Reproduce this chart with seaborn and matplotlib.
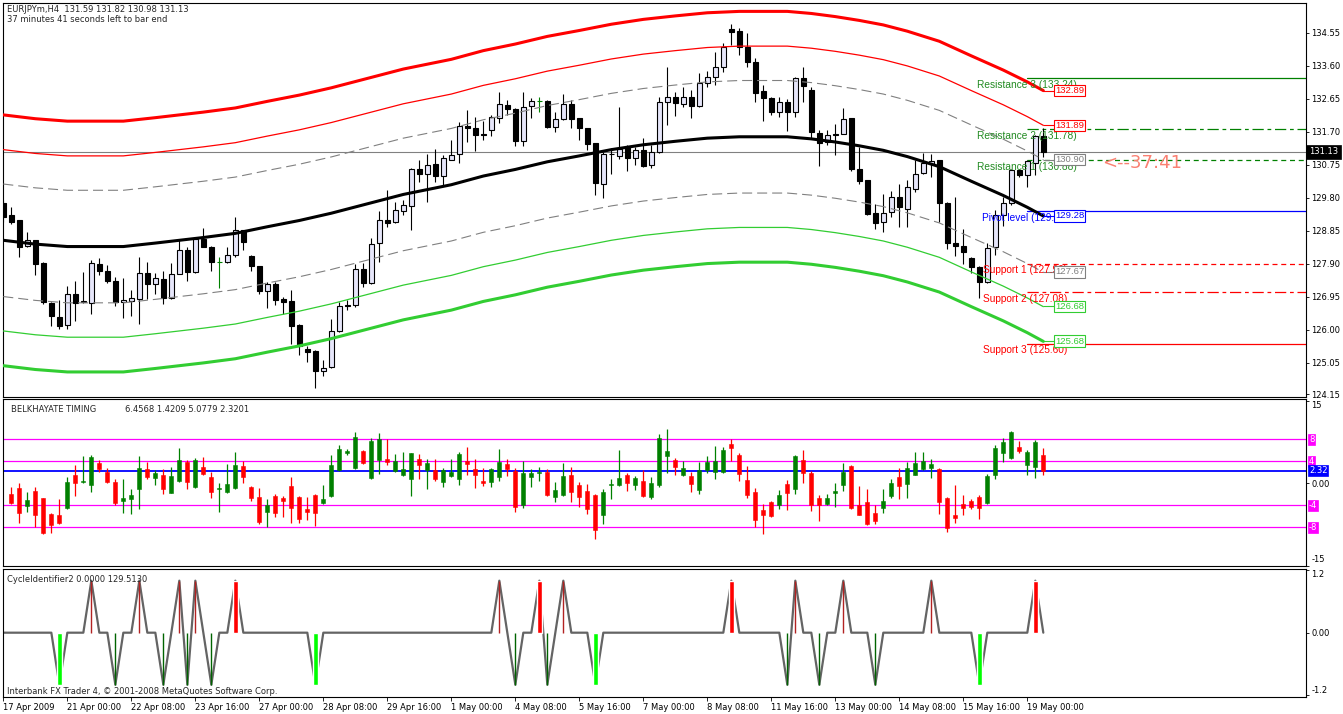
import numpy as np
import pandas as pd
import matplotlib
matplotlib.use("Agg")
import matplotlib.pyplot as plt
import matplotlib.transforms as mtransforms
import seaborn as sns

# ------------------------------------------------------------------ data
symbol_title = "EURJPYm,H4  131.59 131.82 130.98 131.13"
timer_text = "37 minutes 41 seconds left to bar end"

opens = [129.64, 129.30, 129.15, 128.43, 128.58, 127.93, 126.77, 126.38, 126.15, 127.04,
         126.80, 126.77, 127.90, 127.71, 127.42, 126.80, 126.83, 126.89, 127.64, 127.33,
         127.47, 126.91, 127.62, 128.31, 127.66, 128.63, 128.40, 127.95, 127.95, 128.16,
         128.87, 128.14, 127.83, 127.12, 127.33, 126.88, 126.82, 126.14, 125.45, 125.39,
         124.81, 124.92, 125.96, 126.73, 126.72, 127.74, 127.35, 128.50, 129.15, 129.11,
         129.42, 129.57, 130.63, 130.48, 130.77, 130.43, 130.90, 131.05, 131.87, 131.82,
         131.63, 131.75, 132.09, 132.47, 132.36, 131.44, 132.45, 132.59, 132.59, 131.85,
         132.06, 132.49, 132.09, 131.80, 131.37, 130.21, 131.05, 131.01, 131.27, 130.96,
         131.17, 130.76, 131.13, 132.57, 132.71, 132.49, 132.71, 132.45, 133.12, 133.29,
         133.56, 134.65, 134.60, 134.15, 133.70, 132.88, 132.69, 132.28, 132.55, 132.28,
         133.24, 132.92, 131.68, 131.41, 131.63, 131.65, 132.09, 130.63, 130.31, 129.38,
         129.11, 129.39, 129.83, 129.49, 130.07, 130.52, 130.77, 130.89, 129.65, 128.51,
         128.43, 128.07, 127.81, 127.38, 128.38, 129.30, 129.65, 130.60, 130.47, 130.81,
         131.59]
highs = [129.73, 129.54, 129.17, 128.82, 128.60, 127.95, 126.80, 126.85, 127.25, 127.42,
         127.66, 128.02, 128.07, 127.86, 127.52, 127.49, 127.14, 128.10, 127.95, 127.63,
         127.71, 127.93, 128.58, 128.38, 128.65, 128.94, 128.42, 128.10, 128.38, 129.25,
         128.89, 128.16, 127.85, 127.38, 127.38, 126.94, 127.14, 126.16, 125.55, 125.41,
         125.12, 126.32, 126.80, 126.87, 127.90, 127.93, 128.64, 129.41, 130.02, 129.68,
         129.73, 130.66, 130.88, 131.06, 131.22, 131.03, 131.46, 131.99, 132.33, 132.13,
         132.02, 132.18, 132.84, 132.63, 132.40, 132.84, 132.68, 132.71, 132.61, 132.28,
         132.78, 132.62, 132.11, 131.82, 131.39, 131.13, 131.24, 132.42, 131.32, 131.27,
         131.53, 131.32, 132.71, 133.58, 132.84, 132.98, 132.90, 133.41, 133.45, 133.99,
         134.27, 134.81, 134.68, 134.54, 133.82, 133.05, 132.71, 132.71, 132.66, 133.28,
         133.56, 132.98, 131.75, 131.75, 131.92, 132.38, 132.11, 131.27, 130.33, 129.63,
         129.92, 129.99, 130.21, 130.31, 130.90, 131.10, 131.06, 130.90, 129.67, 129.83,
         128.91, 128.09, 127.83, 128.50, 129.44, 129.83, 130.64, 130.64, 130.90, 131.60,
         131.82]
lows = [129.11, 129.06, 128.10, 128.38, 127.57, 126.75, 126.10, 126.03, 126.03, 126.25,
        126.78, 126.46, 127.57, 127.35, 126.70, 126.35, 126.41, 126.17, 126.89, 127.04,
        126.75, 126.90, 127.60, 127.42, 127.64, 128.38, 127.71, 127.21, 127.93, 128.10,
        128.29, 127.71, 127.02, 126.63, 126.73, 126.46, 125.60, 125.29, 125.07, 124.33,
        124.68, 124.90, 125.93, 126.58, 126.65, 127.23, 127.33, 127.95, 128.96, 129.08,
        129.30, 128.87, 130.26, 129.68, 130.26, 130.18, 130.88, 130.81, 131.41, 131.15,
        131.48, 131.58, 131.96, 132.18, 131.30, 131.30, 132.11, 132.28, 131.80, 131.70,
        132.04, 131.80, 131.48, 131.19, 129.89, 129.80, 130.48, 130.93, 130.58, 130.74,
        130.70, 130.66, 131.08, 131.89, 132.15, 132.42, 132.11, 132.43, 133.00, 133.05,
        133.43, 134.20, 133.91, 133.58, 132.57, 132.02, 132.18, 132.13, 131.73, 132.12,
        132.57, 131.51, 130.72, 131.32, 131.03, 131.63, 130.58, 130.21, 129.30, 128.91,
        128.82, 129.25, 128.96, 128.96, 129.97, 130.50, 130.40, 129.11, 128.34, 128.14,
        127.90, 127.63, 126.92, 127.35, 128.17, 128.98, 129.59, 130.40, 130.12, 130.45,
        130.98]
closes = [129.25, 129.11, 128.40, 128.58, 127.90, 126.80, 126.41, 126.10, 127.04, 126.77,
          126.82, 127.93, 127.69, 127.40, 126.80, 126.85, 126.92, 127.64, 127.33, 127.50,
          126.91, 127.62, 128.31, 127.66, 128.63, 128.40, 127.95, 127.95, 128.16, 128.87,
          128.53, 127.84, 127.12, 127.33, 126.87, 126.80, 126.10, 125.55, 125.36, 124.81,
          124.90, 125.98, 126.70, 126.70, 127.74, 127.36, 128.48, 129.15, 129.08, 129.44,
          129.59, 130.64, 130.48, 130.76, 130.43, 130.94, 131.03, 131.87, 131.80, 131.61,
          131.61, 132.12, 132.49, 132.36, 131.44, 132.42, 132.59, 132.59, 131.85, 132.06,
          132.49, 132.06, 131.80, 131.35, 130.23, 131.05, 131.06, 131.20, 130.96, 131.17,
          130.72, 131.13, 132.57, 132.71, 132.52, 132.71, 132.45, 133.12, 133.29, 133.56,
          134.15, 134.59, 134.15, 133.72, 132.83, 132.68, 132.28, 132.55, 132.28, 133.26,
          133.02, 131.70, 131.38, 131.61, 131.62, 132.07, 130.63, 130.29, 129.35, 129.08,
          129.38, 129.83, 129.54, 130.10, 130.50, 130.81, 130.87, 129.64, 128.50, 128.43,
          128.24, 127.81, 127.38, 128.37, 129.32, 129.66, 130.60, 130.45, 130.86, 131.58,
          131.13]

center_bars = [0, 4, 8, 15, 19, 25, 29, 33, 37, 41, 45, 50, 56, 60, 64, 68, 72, 76, 80,
               84, 88, 92, 98, 101, 104, 107, 110, 113, 117, 121, 125, 128, 130]
center_vals = [128.58, 128.47, 128.40, 128.40, 128.50, 128.66, 128.78, 128.97, 129.15,
               129.36, 129.60, 129.90, 130.18, 130.43, 130.62, 130.84, 131.01, 131.19,
               131.33, 131.43, 131.52, 131.56, 131.56, 131.50, 131.41, 131.30, 131.17,
               130.99, 130.70, 130.28, 129.87, 129.53, 129.28]
band_offsets = [3.61, 2.61, 1.62, -1.62, -2.61, -3.61]
band_tags = ["132.89", "131.89", "130.90", "129.28", "127.67", "126.68", "125.68"]
band_tag_vals = [132.89, 131.89, 130.90, 129.28, 127.67, 126.68, 125.68]

pivot_names = ["Resistance 3 (133.24)", "Resistance 2 (131.78)", "Resistance 1 (130.88)",
               "Pivot level (129.42)", "Support 1 (127.90)", "Support 2 (127.08)",
               "Support 3 (125.60)"]
pivot_vals = [133.24, 131.78, 130.88, 129.42, 127.90, 127.08, 125.60]
current_price = 131.13
timer_label = "<--37:41"

price_ticks = [134.55, 133.60, 132.65, 131.70, 130.75, 129.80, 128.85, 127.90, 126.95,
               126.00, 125.05, 124.15]

nan = np.nan
osc_open = [nan, -2.00, -0.91, -4.12, -1.39, -2.73, -5.52, -5.76, -4.42, 1.52,
            0.24, -0.36, 3.64, 2.06, 0.24, -3.21, -2.79, -0.97, 2.67, 1.03,
            1.52, -1.70, 0.42, 3.94, -0.67, 2.97, 1.21, -0.97, -1.58, -0.79,
            3.15, -0.67, -2.48, -5.21, -2.30, -2.61, -0.48, -2.42, -4.61, -2.12,
            -3.64, -2.30, 2.36, 5.45, 2.85, 5.88, 1.03, 4.24, 4.36, 2.24,
            1.52, 0.73, 4.36, 2.36, 2.42, 0.24, 1.33, 0.85, 4.06, 2.67,
            0.42, 0.30, 1.15, 3.58, 2.24, -4.00, 1.21, 1.94, 2.12, -2.42,
            -2.12, 1.52, -0.30, -1.39, -2.12, -5.76, -0.36, -0.30, 1.52, -0.30,
            0.42, -2.42, -0.36, 4.97, 4.24, 1.52, 1.33, -1.21, 2.42, 2.12,
            2.12, 7.21, 5.15, 0.61, -1.58, -4.85, -3.39, -3.94, -0.06, -0.97,
            4.24, 1.94, -2.61, -3.70, -1.70, -0.30, 3.15, -3.94, -3.39, -5.33,
            -4.42, -2.30, 1.15, -0.06, 1.52, 2.67, 2.85, 2.67, -2.61, -5.76,
            -3.82, -3.21, -2.42, -3.64, 1.52, 5.45, 4.67, 6.61, 3.33, 3.03,
            5.0779]
osc_high = [nan, -0.67, 0.00, -1.58, -0.61, -2.70, -5.33, -2.91, 1.21, 3.33,
            4.97, 5.15, 4.18, 2.85, 0.73, 0.85, -0.97, 4.97, 3.94, 2.42,
            2.55, 2.97, 6.36, 4.18, 4.67, 4.79, 2.12, 0.00, 3.45, 5.70,
            4.06, -0.48, -0.91, -2.91, -2.00, -2.30, 1.21, -2.30, -2.48, -2.00,
            -0.30, 5.15, 6.97, 6.30, 9.33, 6.06, 8.30, 9.21, 8.00, 5.39,
            5.70, 5.58, 5.39, 4.48, 4.48, 2.85, 4.48, 5.76, 6.67, 4.48,
            2.85, 2.85, 6.30, 4.48, 2.85, 4.06, 2.67, 2.97, 2.67, 0.24,
            3.76, 2.97, 0.24, -0.06, -1.88, -1.09, 0.85, 6.06, 1.94, 1.33,
            2.42, 1.21, 9.03, 9.94, 4.67, 4.06, 2.06, 3.94, 4.97, 6.79,
            6.61, 8.00, 5.58, 3.15, -0.79, -3.70, -3.21, -1.21, 0.61, 5.15,
            6.06, 2.24, -2.12, -1.88, 0.00, 3.76, 3.33, -0.48, -0.97, -4.00,
            -1.09, 0.85, 2.85, 3.94, 5.70, 5.70, 4.48, 2.85, -2.42, -0.30,
            -2.12, -2.91, -2.18, 1.76, 6.97, 8.30, 9.52, 7.70, 6.06, 7.88,
            6.4568]
osc_low = [nan, -3.82, -7.15, -5.15, -7.94, -9.27, -8.97, -7.45, -4.61, -2.30,
           0.12, -1.58, 2.06, 0.12, -4.00, -5.33, -5.64, -4.61, 0.85, -0.30,
           -2.00, -1.82, 0.24, -0.97, -0.79, 1.52, -2.61, -5.21, -1.70, -0.97,
           0.00, -3.21, -7.45, -7.94, -6.06, -6.06, -7.15, -7.15, -6.73, -7.76,
           -3.82, -2.42, 2.30, 5.15, 2.67, 3.45, 0.85, 1.64, 3.33, 2.06,
           1.33, -2.30, 0.85, -1.09, 0.42, -0.61, 1.15, -0.30, 1.52, -0.79,
           -0.48, -0.61, 0.42, 1.33, -5.21, -4.42, -0.61, 0.42, -2.30, -3.39,
           -2.30, -3.39, -4.24, -5.52, -10.06, -7.33, -2.79, -0.48, -1.39, -1.21,
           -2.48, -2.79, -0.61, 1.94, 1.52, 1.33, -1.58, -2.00, 1.94, 0.85,
           1.94, 4.06, 0.42, -2.73, -7.94, -9.15, -6.06, -4.61, -4.85, -1.88,
           0.12, -5.03, -6.85, -3.94, -4.24, -1.39, -4.61, -5.82, -7.58, -7.33,
           -5.45, -2.61, -2.79, -2.61, 1.45, 2.42, 1.03, -5.52, -8.79, -7.15,
           -5.82, -4.61, -6.42, -3.70, 0.73, 3.94, 4.48, 5.58, 1.52, 1.03,
           1.4209]
osc_close = [nan, -3.64, -5.33, -3.03, -5.82, -9.09, -7.64, -7.15, 0.24, 0.12,
             0.36, 4.79, 2.67, 0.30, -3.64, -2.73, -2.12, 2.73, 1.21, 1.82,
             -1.09, 1.33, 4.24, 0.30, 4.24, 1.76, -1.52, -0.85, -0.18, 3.33,
             1.21, -2.61, -6.97, -3.94, -5.33, -3.21, -4.42, -6.42, -5.21, -5.33,
             -2.79, 3.33, 6.30, 5.88, 8.48, 3.76, 7.70, 8.00, 3.94, 4.06,
             2.67, 5.45, 3.33, 3.76, 0.73, 2.42, 2.06, 5.39, 3.58, 1.52,
             0.12, 2.67, 3.94, 2.67, -4.24, 1.94, 1.94, 2.06, -2.18, -1.27,
             1.33, -1.52, -2.42, -4.61, -8.48, -1.58, -0.06, 1.03, 0.12, 1.03,
             -2.30, 0.00, 8.30, 5.88, 3.03, 2.85, -0.06, 2.42, 3.94, 4.06,
             6.06, 6.48, 1.76, -2.12, -6.67, -5.76, -5.94, -2.12, -1.70, 4.97,
             1.94, -4.00, -4.00, -2.67, -1.39, 2.06, -4.42, -5.76, -7.33, -6.85,
             -3.21, 0.00, -0.48, 2.85, 3.76, 4.06, 3.58, -3.39, -8.06, -6.24,
             -4.55, -4.24, -4.42, 1.33, 6.48, 7.52, 9.33, 5.88, 5.70, 7.52,
             2.3201]
osc_levels = [8, 4, -4, -8]
osc_level_tags = ["8", "4", "-4", "-8"]
osc_current = 2.32
osc_title = "BELKHAYATE TIMING"
osc_values_text = "6.4568 1.4209 5.0779 2.3201"
osc_ticks = [15, 0, -15]
osc_tick_labels = ["15", "0.00", "-15"]

cycle_vals = [0, 0, 0, 0, 0, 0, 0, -1, 0, 0,
              0, 1, 0, 0, -1, 0, 0, 1, 0, 0,
              -1, 0, 1, -1, 1, 0, -1, 0, 0, 1,
              0, 0, 0, 0, 0, 0, 0, 0, 0, -1,
              0, 0, 0, 0, 0, 0, 0, 0, 0, 0,
              0, 0, 0, 0, 0, 0, 0, 0, 0, 0,
              0, 0, 1, 0, -1, 0, 0, 1, -1, 0,
              1, 0, 0, 0, -1, 0, 0, 0, 0, 0,
              0, 0, 0, 0, 0, 0, 0, 0, 0, 0,
              0, 1, 0, 0, 0, 0, 0, 0, -1, 1,
              0, 0, -1, 0, 0, 1, 0, 0, 0, -1,
              0, 0, 0, 0, 0, 0, 1, 0, 0, 0,
              0, 0, -1, 0, 0, 0, 0, 0, 0, 1,
              0]
major_up = [29, 67, 91, 129]
minor_up = [11, 17, 22, 24, 62, 70, 99, 105, 116]
major_dn = [7, 39, 74, 122]
minor_dn = [14, 20, 23, 26, 64, 68, 98, 102, 109]
cycle_ticks = [1.2, 0, -1.2]
cycle_tick_labels = ["1.2", "0.00", "-1.2"]
cycle_title = "CycleIdentifier2 0.0000 129.5130"
footer = "Interbank FX Trader 4, \u00a9 2001-2008 MetaQuotes Software Corp."

time_tick_bars = [0, 8, 16, 24, 32, 40, 48, 56, 64, 72, 80, 88, 96, 104, 112, 120, 128]
time_tick_labels = ["17 Apr 2009", "21 Apr 00:00", "22 Apr 08:00", "23 Apr 16:00",
                    "27 Apr 00:00", "28 Apr 08:00", "29 Apr 16:00", "1 May 00:00",
                    "4 May 08:00", "5 May 16:00", "7 May 00:00", "8 May 08:00",
                    "11 May 16:00", "13 May 00:00", "14 May 08:00", "15 May 16:00",
                    "19 May 00:00"]

# ------------------------------------------------------------------ style
sns.set_theme(style="white")
plt.rcParams['font.family'] = ['DejaVu Sans']
plt.rcParams['axes.linewidth'] = 0.8
plt.rcParams['axes.edgecolor'] = 'black'

W, H = 1343, 714
fig = plt.figure(figsize=(W / 100, H / 100), dpi=100)
fig.patch.set_facecolor('white')


def rect(l, t, r, b):
    return [l / W, 1 - b / H, (r - l) / W, (b - t) / H]


ax1 = fig.add_axes(rect(2.7, 2.7, 1305.7, 397.3))
ax2 = fig.add_axes(rect(2.7, 399.3, 1305.7, 566.0), sharex=ax1)
ax3 = fig.add_axes(rect(2.7, 569.3, 1305.7, 696.7), sharex=ax1)

GREEN_DOJI = '#008000'
BULL_FILL = '#E6E6FA'
TXT = 6.0

# ------------------------------------------------------------------ main panel
bars = np.arange(len(closes))
O = np.array(opens); Hh = np.array(highs); L = np.array(lows); C = np.array(closes)
bull = C > O
bear = C < O
doji = C == O

ax1.axhline(current_price, color='#808080', lw=0.8, zorder=1)
ax1.vlines(bars, L, Hh, colors=np.where(doji, GREEN_DOJI, 'black'), lw=0.8, zorder=3)
ax1.bar(bars[bull], (C - O)[bull], bottom=O[bull], width=0.62, color=BULL_FILL,
        edgecolor='black', linewidth=0.8, zorder=4)
ax1.bar(bars[bear], (O - C)[bear], bottom=C[bear], width=0.62, color='black',
        edgecolor='black', linewidth=0.8, zorder=4)
ax1.hlines(O[doji], bars[doji] - 0.31, bars[doji] + 0.31, colors=GREEN_DOJI, lw=0.8, zorder=4)

band_df = pd.DataFrame({'bar': center_bars, 'center': center_vals})
band_colors = ['#FF0000', '#FF0000', '#808080', '#808080', '#32CD32', '#32CD32']
band_widths = [2.2, 0.9, 0.8, 0.8, 0.9, 2.2]
band_styles = ['-', '-', (0, (9, 4.5)), (0, (9, 4.5)), '-', '-']
for off, col, lw, ls in zip(band_offsets, band_colors, band_widths, band_styles):
    sns.lineplot(x=band_df['bar'], y=band_df['center'] + off, ax=ax1, color=col,
                 lw=lw, linestyle=ls, zorder=5)
sns.lineplot(data=band_df, x='bar', y='center', ax=ax1, color='black', lw=2.2, zorder=5)

tag_colors = ['#FF0000', '#FF0000', '#808080', '#0000FF', '#808080', '#32CD32', '#32CD32']
for val, s, col in zip(band_tag_vals, band_tags, tag_colors):
    ax1.hlines(val, bars[-1], bars[-1] + 1.45, colors=col, lw=0.8, zorder=5)
    ax1.text(bars[-1] + 1.45, val, s, color=col, fontsize=6.8, family='Liberation Sans',
             ha='left', va='center', zorder=7,
             bbox=dict(boxstyle='square,pad=0.12', fc='white', ec=col, lw=0.8))

pivot_colors = ['#008000', '#008000', '#008000', '#0000FF', '#FF0000', '#FF0000', '#FF0000']
pivot_text_colors = ['#228B22', '#228B22', '#228B22', '#0000FF', '#FF0000', '#FF0000', '#FF0000']
pivot_styles = ['-', (0, (9, 3, 3, 3)), (0, (4, 3)), '-', (0, (4, 3)), (0, (9, 3, 3, 3)), '-']
pivot_label_x = [121.7, 121.7, 121.7, 122.3, 122.5, 122.5, 122.5]
for name, val, col, tcol, ls, lx in zip(pivot_names, pivot_vals, pivot_colors,
                                        pivot_text_colors, pivot_styles, pivot_label_x):
    ax1.plot([128, 170], [val, val], color=col, lw=0.9, linestyle=ls, zorder=2)
    ax1.annotate(name, (lx, val), xytext=(0, -6.5), textcoords='offset pixels',
                 color=tcol, fontsize=7.3, family='Liberation Sans', ha='left', va='center',
                 zorder=6)

ax1.text(137.3, 130.80, timer_label, color='#FA8072', fontsize=13, ha='left',
         va='center', zorder=6)

ax1.set_ylim(124.06, 135.42)
ax1.set_yticks(price_ticks)
ax1.set_yticklabels([f"{t:.2f}" for t in price_ticks])


def right_tag(ax, y, s, fc, tc='white', pad=0.12):
    tr = mtransforms.blended_transform_factory(ax.transAxes, ax.transData)
    ax.text(1.0 + 3.2 / 1303, y, s, transform=tr, ha='left', va='center', fontsize=TXT,
            color=tc, clip_on=False, zorder=10,
            bbox=dict(boxstyle=f'square,pad={pad}', fc=fc, ec=fc, lw=0.5))


def edge_label(ax, y, s, dy):
    # tick label at the panel edge, nudged inside the panel as the terminal draws it
    tr = mtransforms.blended_transform_factory(ax.transAxes, ax.transData)
    ax.annotate(s, (1.0, y), xycoords=tr, xytext=(5.5, dy), textcoords='offset pixels',
                ha='left', va='center', fontsize=TXT, color='black', annotation_clip=False)


right_tag(ax1, current_price, f"{current_price:.2f}", 'black', pad=0.3)

# ------------------------------------------------------------------ oscillator
oO = np.array(osc_open); oH = np.array(osc_high); oL = np.array(osc_low); oC = np.array(osc_close)
valid = ~np.isnan(oC)
up = valid & (oC >= oO)
dn = valid & (oC < oO)
for m, col in ((up, '#008000'), (dn, '#FF0000')):
    ax2.vlines(bars[m], oL[m], oH[m], colors=col, lw=0.9, zorder=3)
    ax2.bar(bars[m], np.maximum(np.abs(oC - oO)[m], 0.12), bottom=np.minimum(oO, oC)[m],
            width=0.5, color=col, edgecolor=col, linewidth=0.4, zorder=4)
for lv in osc_levels:
    ax2.axhline(lv, color='#FF00FF', lw=0.9, zorder=2)
ax2.axhline(osc_current, color='#0000FF', lw=1.3, zorder=2)
for lv, s in zip(osc_levels, osc_level_tags):
    right_tag(ax2, lv, s, '#FF00FF')
right_tag(ax2, osc_current, f"{osc_current:.2f}", '#0000FF')
ax2.set_ylim(-15.04, 15.27)
ax2.set_yticks(osc_ticks)
ax2.set_yticklabels(["", osc_tick_labels[1], ""])
edge_label(ax2, osc_ticks[0], osc_tick_labels[0], -5.2)
edge_label(ax2, osc_ticks[2], osc_tick_labels[2], 6.5)

# ------------------------------------------------------------------ cycle panel
cyc_df = pd.DataFrame({'bar': bars, 'cycle': cycle_vals})
sns.lineplot(data=cyc_df, x='bar', y='cycle', ax=ax3, color='#646464', lw=1.6, zorder=2)
ax3.vlines(minor_up, 0, 1, colors='#B22222', lw=1.0, zorder=3)
ax3.vlines(minor_dn, -1, 0, colors='#006400', lw=1.0, zorder=3)
ax3.bar(major_up, 1, width=0.6, color='#FF0000', zorder=4)
ax3.bar(major_dn, -1, width=0.6, color='#00FF00', zorder=4)
ax3.set_ylim(-1.231, 1.219)
ax3.set_yticks(cycle_ticks)
ax3.set_yticklabels(["", cycle_tick_labels[1], ""])
edge_label(ax3, cycle_ticks[0], cycle_tick_labels[0], -4.7)
edge_label(ax3, cycle_ticks[2], cycle_tick_labels[2], 4.4)

# ------------------------------------------------------------------ axes cosmetics
for ax in (ax1, ax2, ax3):
    ax.set_xlim(-0.08, 162.8)
    ax.set_xlabel('')
    ax.set_ylabel('')
    ax.grid(False)
    ax.set_facecolor('white')
    ax.yaxis.tick_right()
    ax.tick_params(axis='y', which='both', right=True, left=False, direction='out',
                   length=2.5, width=0.6, labelsize=TXT, pad=1.5, colors='black')
    for sp in ax.spines.values():
        sp.set_visible(True)
        sp.set_color('black')
        sp.set_linewidth(0.8)

for ax in (ax1, ax2):
    ax.tick_params(axis='x', bottom=False, labelbottom=False)
ax3.set_xticks(time_tick_bars)
ax3.set_xticklabels(time_tick_labels, ha='left')
ax3.tick_params(axis='x', bottom=True, direction='out', length=3, width=0.6,
                labelsize=TXT, pad=1.5, colors='black')

# ------------------------------------------------------------------ texts
def ftext(x, y, s, **kw):
    fig.text(x / W, 1 - y / H, s, fontsize=TXT, va='center', ha='left', **kw)


ftext(7, 10, symbol_title)
ftext(7, 20, timer_text)
ftext(10.7, 410, osc_title)
ftext(125, 410, osc_values_text)
ftext(7.4, 579.5, cycle_title)
ftext(7, 691, footer)

fig.savefig("out.png", dpi=100, facecolor='white')
